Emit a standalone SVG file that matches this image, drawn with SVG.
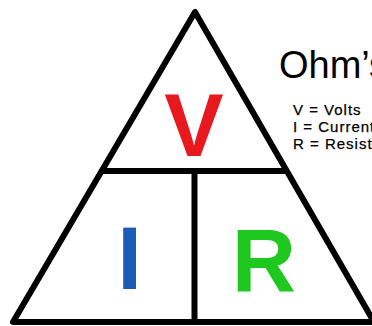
<svg xmlns="http://www.w3.org/2000/svg" width="372" height="326" viewBox="0 0 372 326">
<style>
.edge{fill:none;stroke:#000;stroke-width:6;stroke-linejoin:round;stroke-linecap:butt}
.big{font-family:"Liberation Sans",Arial,sans-serif;font-weight:bold;font-size:89px;text-anchor:middle}
.title{font-family:"Liberation Sans",Arial,sans-serif;font-size:38px;fill:#000}
.legend{font-family:"Liberation Sans",Arial,sans-serif;font-size:15px;letter-spacing:1px;fill:#000;stroke:#000;stroke-width:0.25}
</style>
<rect width="372" height="326" fill="#fff"/>
<g id="triangle">
<polygon class="edge" points="195,12 13,322 374,322"/>
</g>
<g id="connectors">
<line class="edge" x1="100" y1="171" x2="287" y2="171"/>
<line class="edge" x1="194.5" y1="171" x2="194.5" y2="322"/>
</g>
<g id="node-V"><text class="big" x="194" y="156" fill="#e8191e">V</text></g>
<g id="node-I"><text class="big" x="129.5" y="289" fill="#1b5cb8">I</text></g>
<g id="node-R"><text class="big" x="264" y="291" fill="#1ec81e">R</text></g>
<g id="title"><text class="title" x="279" y="78">Ohm’s Law</text></g>
<g id="legend">
<text class="legend" x="293" y="115">V = Volts</text>
<text class="legend" x="293" y="132">I = Current</text>
<text class="legend" x="293" y="149">R = Resistance</text>
</g>
</svg>
